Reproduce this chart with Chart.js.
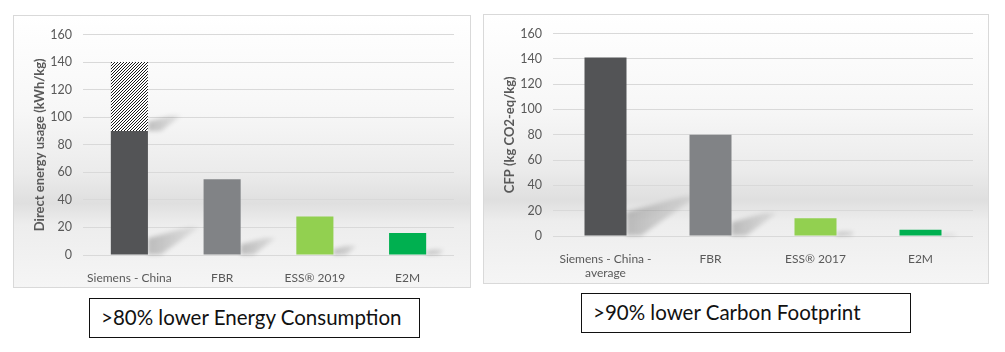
<!DOCTYPE html>
<html>
<head>
<meta charset="utf-8">
<script src="https://cdn.jsdelivr.net/npm/chart.js@4.4.1/dist/chart.umd.min.js"></script>
<style>
  body { margin: 0; background: #fff; width: 1005px; height: 352px; position: relative; overflow: hidden; }
  .box {
    position: absolute; border: 1px solid #d9d9d9;
    background: linear-gradient(to bottom, #ffffff 0%, #f7f7f7 35%, #ebebeb 58%, #dfdfdf 69%, #ededed 77%, #f5f5f5 100%);
  }
  .box canvas { display: block; }
  .caption {
    position: absolute; border: 1.5px solid #111; background: #fff; box-sizing: border-box;
    font-family: Lato, "Open Sans", sans-serif; font-size: 20.5px; color: #111;
    line-height: 36px; padding-left: 11px; white-space: nowrap;
  }
</style>
</head>
<body>
<div class="box" style="left:13px; top:15px; width:456px; height:271px;">
  <canvas id="energy" width="456" height="271"></canvas>
</div>
<div class="box" style="left:483px; top:14px; width:504px; height:268px;">
  <canvas id="cfp" width="504" height="268"></canvas>
</div>
<div class="caption" style="left:89px; top:298px; width:331px; height:40px;">&gt;80% lower Energy Consumption</div>
<div class="caption" style="left:581px; top:293px; width:330px; height:40px;">&gt;90% lower Carbon Footprint</div>

<script>
// chart 1 - direct energy usage
const energyLabels = ['Siemens - China', 'FBR', 'ESS® 2019', 'E2M'];
const energyValues = [90, 55, 28, 16];
const energyRange = [[90, 140], null, null, null];   // hatched part on top of Siemens

// chart 2 - carbon footprint
const cfpLabels = [['Siemens - China -', 'average'], 'FBR', 'ESS® 2017', 'E2M'];
const cfpValues = [141, 80, 14, 5];

const barColors = ['#535456', '#818386', '#92d050', '#00b050'];
const yTicks = { min: 0, max: 160, step: 20 };

// fine diagonal hatch
function hatch() {
  const c = document.createElement('canvas');
  c.width = 3; c.height = 3;
  const g = c.getContext('2d');
  g.fillStyle = '#fff';
  g.fillRect(0, 0, 3, 3);
  g.strokeStyle = '#000';
  g.lineWidth = 0.9;
  g.beginPath();
  g.moveTo(0, 3); g.lineTo(3, 0);
  g.moveTo(-1, 1); g.lineTo(1, -1);
  g.moveTo(2, 4); g.lineTo(4, 2);
  g.stroke();
  return g.createPattern(c, 'repeat');
}

// soft shadows cast behind the bars
const barShadow = {
  id: 'barShadow',
  beforeDatasetsDraw(chart) {
    const ctx = chart.ctx;
    ctx.save();
    ctx.filter = 'blur(2px)';
    chart.data.datasets.forEach((ds, i) => {
      chart.getDatasetMeta(i).data.forEach(el => {
        const p = el.getProps(['x', 'y', 'base', 'width'], true);
        if (p.y == null || isNaN(p.y)) return;
        const h = p.base - p.y;
        if (h <= 0) return;
        const xr = p.x + p.width / 2;
        const dy = h * 0.22;
        const dx = dy * 1.5;
        const tw = p.width * 0.7;
        const grad = ctx.createLinearGradient(xr, 0, xr + dx + tw, 0);
        grad.addColorStop(0, 'rgba(0,0,0,0.22)');
        grad.addColorStop(1, 'rgba(0,0,0,0)');
        ctx.fillStyle = grad;
        ctx.beginPath();
        ctx.moveTo(xr, p.base);
        ctx.lineTo(xr, p.base - dy * 0.6);
        ctx.lineTo(xr + dx, p.base - dy);
        ctx.lineTo(xr + dx + tw * 0.4, p.base - dy);
        ctx.lineTo(xr + tw * 0.5, p.base);
        ctx.closePath();
        ctx.fill();
      });
    });
    ctx.restore();
  }
};

function makeOptions(title, axisHeight, rightPad) {
  return {
    responsive: false,
    animation: false,
    plugins: { legend: { display: false }, tooltip: { enabled: false } },
    layout: { padding: { top: 14, right: rightPad, bottom: 0, left: 0 } },
    datasets: { bar: { barPercentage: 0.4, categoryPercentage: 1 } },
    scales: {
      x: {
        stacked: true,
        grid: { display: false },
        border: { display: false },
        ticks: { color: '#595959', font: { family: 'Lato', size: 12 }, padding: 8, maxRotation: 0 },
        afterFit(s) { s.height = axisHeight; }
      },
      y: {
        stacked: false,
        min: yTicks.min, max: yTicks.max,
        grid: { color: '#d9d9d9', drawTicks: false },
        border: { display: false },
        ticks: { stepSize: yTicks.step, color: '#595959', font: { family: 'Lato', size: 12.5 }, padding: 11 },
        title: { display: true, text: title, color: '#595959', font: { family: 'Lato', size: 13, weight: 'bold' }, padding: { top: 18, bottom: 0 } },
        afterFit(s) { s.width = 69; }
      }
    }
  };
}

new Chart(document.getElementById('energy'), {
  type: 'bar',
  data: {
    labels: energyLabels,
    datasets: [
      { data: energyValues, backgroundColor: barColors },
      { data: energyRange, backgroundColor: hatch() }
    ]
  },
  options: makeOptions('Direct energy usage (kWh/kg)', 32, 16),
  plugins: [barShadow]
});

new Chart(document.getElementById('cfp'), {
  type: 'bar',
  data: {
    labels: cfpLabels,
    datasets: [{ data: cfpValues, backgroundColor: barColors }]
  },
  options: makeOptions('CFP (kg CO2-eq/kg)', 47, 15),
  plugins: [barShadow]
});
</script>
</body>
</html>
